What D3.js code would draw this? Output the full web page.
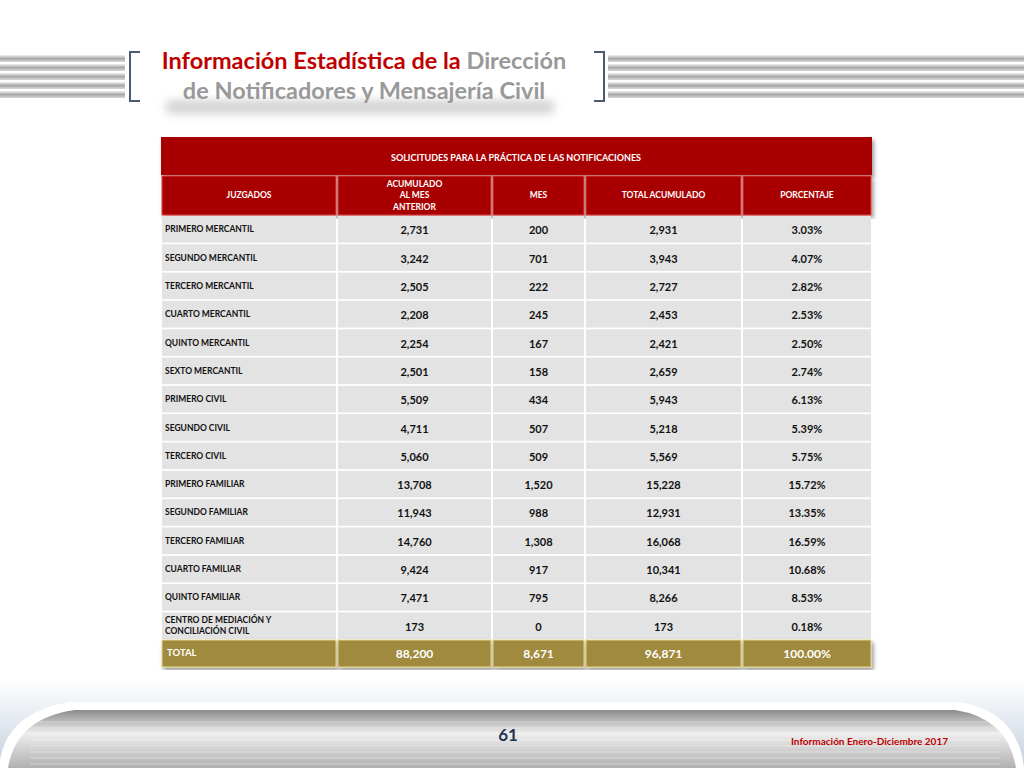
<!DOCTYPE html>
<html>
<head>
<meta charset="UTF-8">
<script src="https://d3js.org/d3.v7.min.js"></script>
<style>
  body { margin: 0; background: #fff; }
  svg { font-family: Lato, "Open Sans", sans-serif; }
</style>
</head>
<body>
<div id="chart"></div>
<script>
// data
var juzgados = ["PRIMERO MERCANTIL","SEGUNDO MERCANTIL","TERCERO MERCANTIL","CUARTO MERCANTIL","QUINTO MERCANTIL","SEXTO MERCANTIL","PRIMERO CIVIL","SEGUNDO CIVIL","TERCERO CIVIL","PRIMERO FAMILIAR","SEGUNDO FAMILIAR","TERCERO FAMILIAR","CUARTO FAMILIAR","QUINTO FAMILIAR","CENTRO DE MEDIACIÓN Y|CONCILIACIÓN CIVIL"];
var acumulado = [2731,3242,2505,2208,2254,2501,5509,4711,5060,13708,11943,14760,9424,7471,173];
var mes = [200,701,222,245,167,158,434,507,509,1520,988,1308,917,795,0];
var totalAcum = [2931,3943,2727,2453,2421,2659,5943,5218,5569,15228,12931,16068,10341,8266,173];
var porcentaje = [3.03,4.07,2.82,2.53,2.50,2.74,6.13,5.39,5.75,15.72,13.35,16.59,10.68,8.53,0.18];
var totales = ["88,200","8,671","96,871","100.00%"];
var columnas = ["JUZGADOS","ACUMULADO|AL  MES|ANTERIOR","MES","TOTAL ACUMULADO","PORCENTAJE"];

var svg = d3.select("#chart").append("svg").attr("width",1024).attr("height",768);
var defs = svg.append("defs");

var g1 = defs.append("linearGradient").attr("id","bars").attr("x1",0).attr("y1",0).attr("x2",0).attr("y2",1);
g1.append("stop").attr("offset","0").attr("stop-color","#f2f2f2");
g1.append("stop").attr("offset","0.5").attr("stop-color","#a8a8a8");
g1.append("stop").attr("offset","1").attr("stop-color","#d8d8d8");
var g2 = defs.append("linearGradient").attr("id","foot").attr("x1",0).attr("y1",0).attr("x2",0).attr("y2",1);
g2.append("stop").attr("offset","0").attr("stop-color","#8a8a8a");
g2.append("stop").attr("offset","0.4").attr("stop-color","#eeeeee");
g2.append("stop").attr("offset","1").attr("stop-color","#b0b0b0");
var g3 = defs.append("linearGradient").attr("id","sky").attr("x1",0).attr("y1",0).attr("x2",0).attr("y2",1);
g3.append("stop").attr("offset","0").attr("stop-color","#ffffff");
g3.append("stop").attr("offset","1").attr("stop-color","#c3d1df");
defs.append("filter").attr("id","blur").attr("x","-20%").attr("y","-100%").attr("width","140%").attr("height","300%")
  .append("feGaussianBlur").attr("stdDeviation",4);
var sh = defs.append("filter").attr("id","shadow");
sh.append("feDropShadow").attr("dx",2).attr("dy",3).attr("stdDeviation",2).attr("flood-opacity",0.4);

// header striped bars
[[0,55,125],[608,55,416]].forEach(function(b){
  for (var i=0;i<5;i++) {
    svg.append("rect").attr("x",b[0]).attr("y",b[1]+i*9).attr("width",b[2]).attr("height",7).attr("fill","url(#bars)");
  }
});
// brackets
svg.append("path").attr("d","M140,52 H130 V101 H140").attr("fill","none").attr("stroke","#4a5a70").attr("stroke-width",2);
svg.append("path").attr("d","M594,52 H604 V101 H594").attr("fill","none").attr("stroke","#4a5a70").attr("stroke-width",2);

// blurred title reflection
svg.append("rect").attr("x",165).attr("y",100).attr("width",390).attr("height",14).attr("rx",7)
  .attr("fill","#aaa").attr("opacity",0.5).attr("filter","url(#blur)");
var t1 = svg.append("text").attr("x",364).attr("y",69).attr("text-anchor","middle").attr("font-size",23.5).attr("font-weight","bold");
t1.append("tspan").attr("fill","#c00000").text("Información Estadística de la ");
t1.append("tspan").attr("fill","#999").text("Dirección");
svg.append("text").attr("x",364).attr("y",99).attr("text-anchor","middle").attr("font-size",23.5).attr("font-weight","bold")
  .attr("fill","#999").text("de Notificadores y Mensajería Civil");

// table scales
var colEdges = [161,337,492,585,742,872];
var x = d3.scaleOrdinal().domain(d3.range(5)).range(colEdges.slice(0,5));
var w = function(i){ return colEdges[i+1]-colEdges[i]; };
var y = d3.scaleBand().domain(d3.range(juzgados.length)).range([216,639]).paddingInner(0.06);
var fmt = d3.format(",");

var table = svg.append("g");
// top header
table.append("rect").attr("x",161).attr("y",137).attr("width",711).attr("height",38).attr("fill","#a80000").attr("filter","url(#shadow)");
table.append("text").attr("x",516).attr("y",161).attr("text-anchor","middle").attr("font-size",9).attr("font-weight","bold").attr("fill","#fff")
  .text("SOLICITUDES PARA LA PRÁCTICA DE  LAS NOTIFICACIONES");
columnas.forEach(function(c,i){
  table.append("rect").attr("x",x(i)+1).attr("y",176).attr("width",w(i)-2).attr("height",39).attr("fill","#a80000").attr("stroke","#e04040").attr("stroke-width",1).attr("filter","url(#shadow)");
  var parts = c.split("|");
  parts.forEach(function(p,k){
    table.append("text").attr("x",x(i)+w(i)/2).attr("y",198+(k-(parts.length-1)/2)*11.5).attr("text-anchor","middle")
      .attr("font-size",8.5).attr("font-weight","bold").attr("fill","#fff").text(p);
  });
});

// body rows
juzgados.forEach(function(j,r){
  var vals = [j, fmt(acumulado[r]), fmt(mes[r]), fmt(totalAcum[r]), porcentaje[r].toFixed(2)+"%"];
  vals.forEach(function(v,i){
    table.append("rect").attr("x",x(i)+1).attr("y",y(r)).attr("width",w(i)-2).attr("height",y.bandwidth()).attr("fill","#e3e3e3");
    var cy = y(r)+y.bandwidth()/2;
    if (i===0) {
      var parts = v.split("|");
      parts.forEach(function(p,k){
        table.append("text").attr("x",x(i)+4).attr("y",cy+3+(k-(parts.length-1)/2)*11).attr("font-size",8.5).attr("font-weight","bold").attr("fill","#111").text(p);
      });
    } else {
      table.append("text").attr("x",x(i)+w(i)/2).attr("y",cy+5).attr("text-anchor","middle").attr("font-size",11).attr("font-weight","bold").attr("fill","#111").text(v);
    }
  });
});

// total row
var tot = ["TOTAL"].concat(totales);
tot.forEach(function(v,i){
  table.append("rect").attr("x",x(i)+1).attr("y",640).attr("width",w(i)-2).attr("height",27).attr("fill","#a08a3e").attr("stroke","#e8d890").attr("filter","url(#shadow)");
  if (i===0) table.append("text").attr("x",x(i)+6).attr("y",656).attr("font-size",9.5).attr("font-weight","bold").attr("fill","#fff").text(v);
  else table.append("text").attr("x",x(i)+w(i)/2).attr("y",658).attr("text-anchor","middle").attr("font-size",12).attr("font-weight","bold").attr("fill","#fff").text(v);
});

// footer
svg.append("rect").attr("x",0).attr("y",680).attr("width",1024).attr("height",88).attr("fill","url(#sky)");
svg.append("path").attr("d","M0,768 V760 Q8,712 70,702 H960 Q1018,712 1024,768 Z").attr("fill","#fff");
svg.append("path").attr("d","M8,768 Q16,718 75,710 H955 Q1008,718 1016,768 Z").attr("fill","url(#foot)");
for (var i=0;i<8;i++) {
  svg.append("line").attr("x1",30).attr("x2",1000).attr("y1",722+i*6).attr("y2",722+i*6).attr("stroke","#fff").attr("stroke-opacity",0.35);
}
svg.append("text").attr("x",508).attr("y",741).attr("text-anchor","middle").attr("font-size",17).attr("font-weight","bold").attr("fill","#1f3550").text("61");
svg.append("text").attr("x",948).attr("y",745).attr("text-anchor","end").attr("font-size",10).attr("font-weight","bold").attr("fill","#c00000").text("Información Enero-Diciembre 2017");
</script>
</body>
</html>
